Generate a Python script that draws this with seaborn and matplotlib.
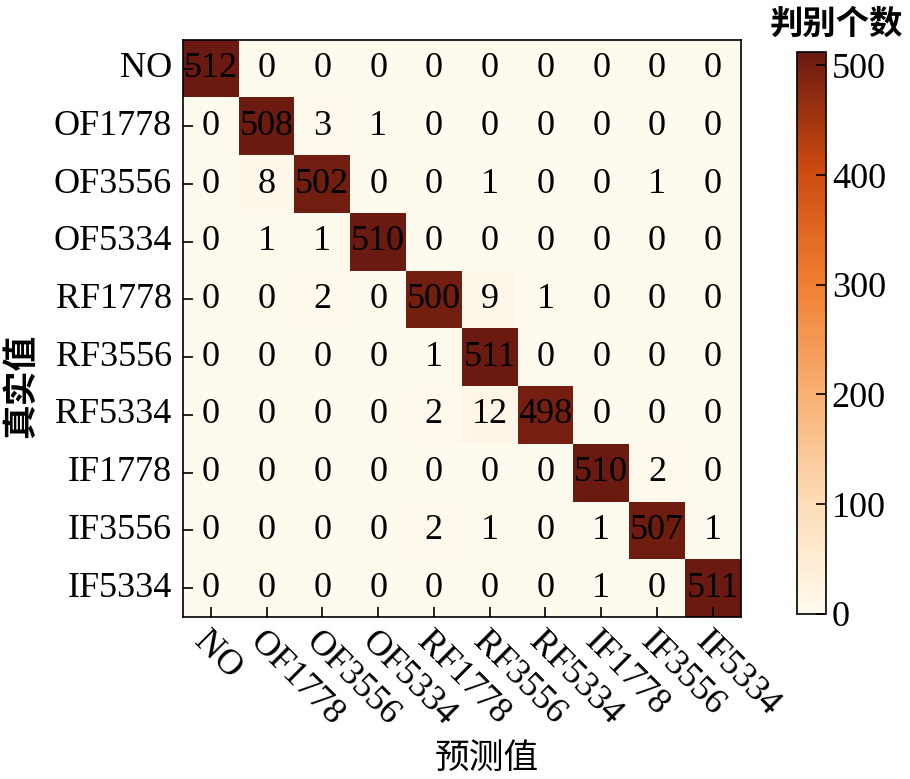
import numpy as np
import pandas as pd
import matplotlib
matplotlib.use("Agg")
import matplotlib.pyplot as plt
from matplotlib.colors import LinearSegmentedColormap
import seaborn as sns

classes = ["NO", "OF1778", "OF3556", "OF5334", "RF1778",
           "RF3556", "RF5334", "IF1778", "IF3556", "IF5334"]

# rows: true class, cols: predicted class
row_no = [512, 0, 0, 0, 0, 0, 0, 0, 0, 0]
row_of1778 = [0, 508, 3, 1, 0, 0, 0, 0, 0, 0]
row_of3556 = [0, 8, 502, 0, 0, 1, 0, 0, 1, 0]
row_of5334 = [0, 1, 1, 510, 0, 0, 0, 0, 0, 0]
row_rf1778 = [0, 0, 2, 0, 500, 9, 1, 0, 0, 0]
row_rf3556 = [0, 0, 0, 0, 1, 511, 0, 0, 0, 0]
row_rf5334 = [0, 0, 0, 0, 2, 12, 498, 0, 0, 0]
row_if1778 = [0, 0, 0, 0, 0, 0, 0, 510, 2, 0]
row_if3556 = [0, 0, 0, 0, 2, 1, 0, 1, 507, 1]
row_if5334 = [0, 0, 0, 0, 0, 0, 0, 1, 0, 511]

cm = pd.DataFrame(
    [row_no, row_of1778, row_of3556, row_of5334, row_rf1778,
     row_rf3556, row_rf5334, row_if1778, row_if3556, row_if5334],
    index=classes, columns=classes)

# cream -> orange -> dark brown
cmap = LinearSegmentedColormap.from_list(
    "cm_orange",
    [(0.0, "#fffaee"), (0.2, "#fcdcb6"), (0.4, "#f8ae70"),
     (0.6, "#f07c2e"), (0.8, "#c9480f"), (1.0, "#6a1a10")])

sns.set_style("white")
plt.rcParams["font.family"] = ["Liberation Serif", "Noto Sans CJK SC"]
plt.rcParams["text.color"] = "black"
plt.rcParams["axes.labelcolor"] = "black"
plt.rcParams["xtick.color"] = "black"
plt.rcParams["ytick.color"] = "black"
plt.rcParams["axes.axisbelow"] = False

fig = plt.figure(figsize=(9.1, 7.79), dpi=100)
ax = fig.add_axes([0.201, 0.208, 0.613, 0.741])
cax = fig.add_axes([0.876, 0.212, 0.032, 0.721])

sns.heatmap(cm, ax=ax, cbar_ax=cax, cmap=cmap, vmin=0, vmax=512,
            annot=True, fmt="d",
            annot_kws={"fontsize": 26, "color": "black"},
            cbar_kws={"ticks": [0, 100, 200, 300, 400, 500]})
ax.set_axisbelow(False)
cax.set_axisbelow(False)

for sp in ax.spines.values():
    sp.set_visible(True)
    sp.set_linewidth(1.2)
    sp.set_color("black")

ax.tick_params(axis="both", direction="in", length=7, width=1.2,
               labelsize=26, left=True, bottom=True)
ax.tick_params(axis="y", pad=8)
ax.tick_params(axis="x", pad=6)
ax.set_yticklabels(classes, rotation=0)
ax.set_xticklabels(classes, rotation=-45, ha="left", rotation_mode="anchor")
ax.set_xlabel("预测值", fontsize=25)
ax.xaxis.set_label_coords(0.545, -0.218)
ax.set_ylabel("真实值", fontsize=25, fontweight="bold")
ax.yaxis.set_label_coords(-0.258, 0.40)

cb = ax.collections[0].colorbar
cb.outline.set_visible(True)
cb.outline.set_linewidth(1.2)
cb.outline.set_edgecolor("black")
cax.tick_params(direction="in", length=7, width=1.2, labelsize=26, right=True, pad=4)
fig.text(0.919, 0.968, "判别个数", fontsize=24, fontweight="bold",
         ha="center", va="center")

fig.savefig("out.png", dpi=100)
